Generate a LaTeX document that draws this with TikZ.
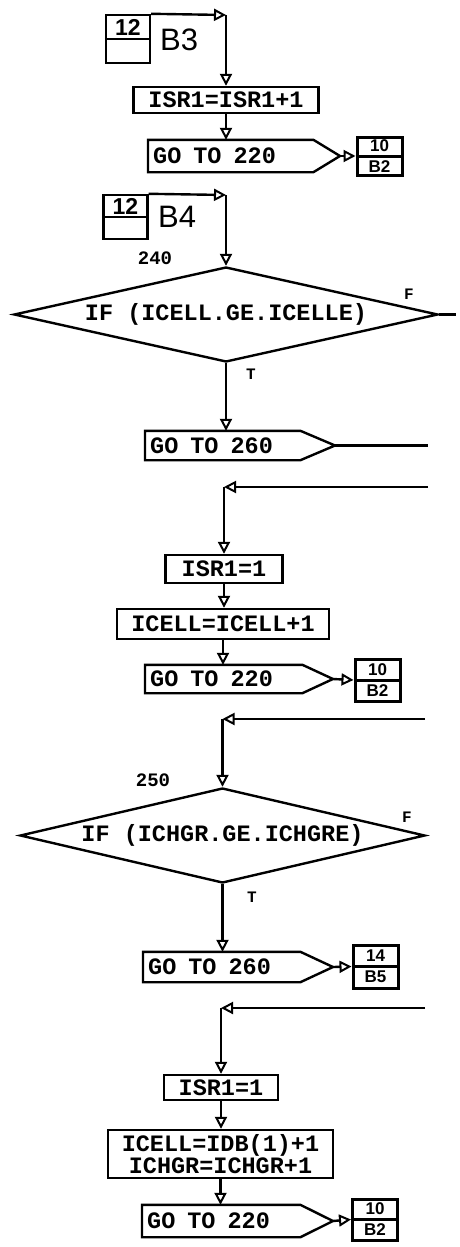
\documentclass[tikz,border=0pt]{standalone}
\usepackage{fontspec}
\setmainfont{Liberation Sans}
\newfontfamily\monofam{Liberation Mono}
\usetikzlibrary{arrows.meta,shapes.geometric}
\newcommand\wsp{\hspace*{12pt}}
\begin{document}
\begin{tikzpicture}[x=1pt,y=-1pt,
 ln/.style={line width=2.4pt},
 arr/.style={ln,-{Triangle[open,length=12pt,width=12pt,line width=2pt]}},
 boxfont/.style={font=\monofam\bfseries\fontsize{23.5}{20}\selectfont},
 proc/.style={draw,line width=2.4pt,inner xsep=4pt,inner ysep=0pt,boxfont,align=center},
 gotob/.style={inner xsep=5pt,inner ysep=0pt,anchor=west,align=left,boxfont},
 dec/.style={diamond,draw,line width=2.4pt,inner sep=0pt,aspect=4.4,boxfont},
 lbox/.style={draw,line width=2.4pt,minimum width=44pt,inner sep=0pt},
 lboxnum/.style={font=\bfseries\fontsize{23}{23}\selectfont,inner sep=0pt},
 blab/.style={font=\fontsize{31}{31}\selectfont,inner sep=0pt,anchor=west},
 conn/.style={draw,line width=3pt,minimum width=45pt,inner sep=0pt,align=center,font=\bfseries\fontsize{17}{21}\selectfont},
 lab/.style={font=\monofam\bfseries\fontsize{19}{19}\selectfont,inner sep=0pt},
 tf/.style={font=\monofam\bfseries\fontsize{16}{16}\selectfont,inner sep=0pt},
]
\useasboundingbox (0,0) rectangle (459,1247);
\fill[white] (0,0) rectangle (459,1247);

% ---- B3 entry
\node[lbox,minimum height=48pt] (b3) at (128,39) {};
\draw[ln] (b3.west) -- (b3.east);
\node[lboxnum] (b3n) at (128,27) {12};
\node[blab] (b3t) at (160,40) {B3};
\coordinate (k1) at (226,15);
\draw[arr] (b3.north east) -- (k1);
\node[proc,minimum width=185pt,minimum height=26pt] (p1) at (226,100) {ISR1=ISR1+1};
\draw[arr] (k1) -- (k1 |- p1.north);
\node[gotob,text width=155pt,minimum height=32pt] (g1) at (148,156) {GO\wsp TO\wsp 220};
\coordinate (g1p) at (340,156);
\draw[ln] (g1.north west) -- (g1.north east) -- (g1p) -- (g1.south east) -- (g1.south west) -- cycle;
\draw[arr] (p1.south) -- (p1.south |- g1.north);
\node[conn,minimum height=38pt] (c1) at (379.5,156) {10\\B2};
\draw[line width=3pt] (c1.west) -- (c1.east);
\draw[arr] (g1p) -- (c1.west);

% ---- B4 entry
\node[lbox,minimum height=44pt] (b4) at (125.5,217) {};
\draw[ln] (b4.west) -- (b4.east);
\node[lboxnum] (b4n) at (125.5,206) {12};
\node[blab] (b4t) at (158,217) {B4};
\coordinate (k2) at (226,195);
\draw[arr] (b4.north east) -- (k2);
\node[dec,minimum width=424pt,minimum height=95pt] (d1) at (226,314.5) {IF (ICELL.GE.ICELLE)};
\draw[arr] (k2) -- (k2 |- d1.north);
\node[lab] (l240) at (155,258) {240};
\node[tf] (f1l) at (409,294) {F};
\node[tf] (t1l) at (251,374) {T};
\coordinate (f1) at (456,314.5);
\draw[ln] (d1.east) -- (f1);

\node[gotob,text width=145pt,minimum height=29pt] (g2) at (145,445.5) {GO\wsp TO\wsp 260};
\coordinate (g2p) at (335,445.5);
\draw[ln] (g2.north west) -- (g2.north east) -- (g2p) -- (g2.south east) -- (g2.south west) -- cycle;
\draw[arr] (d1.south) -- (d1.south |- g2.north);
\coordinate (o2) at (428,445.5);
\draw[ln] (g2p) -- (o2);

% ---- return path 1
\coordinate (e1) at (428,487);
\coordinate (k3) at (224,487);
\draw[arr] (e1) -- (k3);
\node[proc,minimum width=117pt,minimum height=28pt] (s1) at (224,569) {ISR1=1};
\draw[arr] (k3) -- (k3 |- s1.north);
\node[proc,minimum width=212pt,minimum height=30pt] (s2) at (223,624) {ICELL=ICELL+1};
\draw[arr] (s1.south) -- (s1.south |- s2.north);
\node[gotob,text width=147pt,minimum height=28pt] (g3) at (145,679) {GO\wsp TO\wsp 220};
\coordinate (g3p) at (333,679);
\draw[ln] (g3.north west) -- (g3.north east) -- (g3p) -- (g3.south east) -- (g3.south west) -- cycle;
\draw[arr] (s2.south) -- (s2.south |- g3.north);
\node[conn,minimum height=42pt] (c2) at (377.5,680) {10\\B2};
\draw[line width=3pt] (c2.west) -- (c2.east);
\draw[arr] (g3p) -- (c2.west);

% ---- 250
\coordinate (e2) at (425,719);
\coordinate (k4) at (222.5,719);
\draw[arr] (e2) -- (k4);
\node[dec,minimum width=405pt,minimum height=95pt] (d2) at (222.5,835.5) {IF (ICHGR.GE.ICHGRE)};
\draw[arr] (k4) -- (k4 |- d2.north);
\node[lab] (l250) at (153,780) {250};
\node[tf] (f2l) at (407,817) {F};
\node[tf] (t2l) at (252,897) {T};

\node[gotob,text width=147pt,minimum height=30pt] (g4) at (143,967) {GO\wsp TO\wsp 260};
\coordinate (g4p) at (333,967);
\draw[ln] (g4.north west) -- (g4.north east) -- (g4p) -- (g4.south east) -- (g4.south west) -- cycle;
\draw[arr] (d2.south) -- (d2.south |- g4.north);
\node[conn,minimum height=43pt] (c3) at (375.5,966.5) {14\\B5};
\draw[line width=3pt] (c3.west) -- (c3.east);
\draw[arr] (g4p) -- (c3.west);

% ---- return path 2
\coordinate (e3) at (425,1008);
\coordinate (k5) at (221,1008);
\draw[arr] (e3) -- (k5);
\node[proc,minimum width=114pt,minimum height=25pt] (s3) at (221,1087.5) {ISR1=1};
\draw[arr] (k5) -- (k5 |- s3.north);
\node[proc,minimum width=225pt,minimum height=48pt] (s4) at (220.5,1154) {ICELL=IDB(1)+1\\ICHGR=ICHGR+1};
\draw[arr] (s3.south) -- (s3.south |- s4.north);
\node[gotob,text width=148pt,minimum height=32pt] (g5) at (142,1221) {GO\wsp TO\wsp 220};
\coordinate (g5p) at (333,1221);
\draw[ln] (g5.north west) -- (g5.north east) -- (g5p) -- (g5.south east) -- (g5.south west) -- cycle;
\draw[arr] (s4.south) -- (s4.south |- g5.north);
\node[conn,minimum height=41pt] (c4) at (375,1219.5) {10\\B2};
\draw[line width=3pt] (c4.west) -- (c4.east);
\draw[arr] (g5p) -- (c4.west);
\end{tikzpicture}
\end{document}
